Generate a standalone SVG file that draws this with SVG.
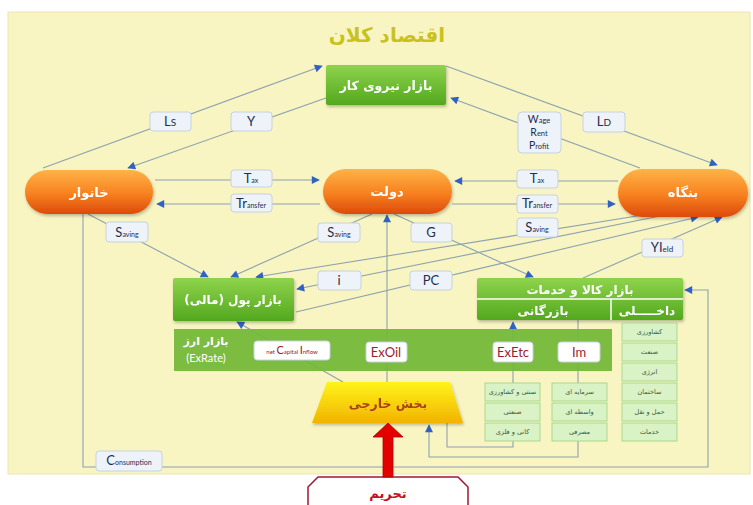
<svg xmlns="http://www.w3.org/2000/svg" width="753" height="505" viewBox="0 0 753 505">
<style>
.fa{font-family:"DejaVu Sans",sans-serif;font-weight:bold;text-anchor:middle}
.w{fill:#fff}
.ln{fill:none;stroke:#8da2ae;stroke-width:1.1}
.lb{fill:#eef3fa;stroke:#c5d2de;stroke-width:1}
.lt{font-family:Lato,"Open Sans",sans-serif;fill:#1f2d4e;text-anchor:middle;font-size:13px}
.rt{font-family:Lato,"Open Sans",sans-serif;fill:#9b1b30;text-anchor:middle;font-size:13px}
.sm{font-size:7px}
.sb{fill:#d9f2c6;stroke:#a9d98c;stroke-width:1}
.st{font-family:"DejaVu Sans",sans-serif;font-size:6.5px;fill:#3d5a3a;text-anchor:middle}
</style>
<defs>
<marker id="ah" viewBox="0 0 10 10" refX="9" refY="5" markerWidth="9" markerHeight="8" markerUnits="userSpaceOnUse" orient="auto">
<path d="M0,0 L10,5 L0,10 z" fill="#2f62c4"/>
</marker>
<linearGradient id="gr" x1="0" y1="0" x2="0" y2="1">
<stop offset="0" stop-color="#8fd34c"/><stop offset="1" stop-color="#52a81e"/>
</linearGradient>
<linearGradient id="or" x1="0" y1="0" x2="0" y2="1">
<stop offset="0" stop-color="#ffb347"/><stop offset="0.55" stop-color="#f7801f"/><stop offset="1" stop-color="#dc4a0c"/>
</linearGradient>
<linearGradient id="ye" x1="0" y1="0" x2="0" y2="1">
<stop offset="0" stop-color="#fff41a"/><stop offset="1" stop-color="#f2b300"/>
</linearGradient>
<filter id="sh" x="-10%" y="-10%" width="130%" height="140%">
<feDropShadow dx="1" dy="2" stdDeviation="1.5" flood-color="#000" flood-opacity="0.25"/>
</filter>
</defs>
<rect x="0" y="0" width="753" height="505" fill="#ffffff"/>
<rect x="8" y="12" width="742" height="462" fill="#f8f5c2" stroke="#ebe6b0" stroke-width="1"/>
<text x="387" y="42" class="fa" font-size="20" fill="#c9c21c">اقتصاد کلان</text>

<g id="connectors">
<path class="ln" d="M43,168 L322,66" marker-end="url(#ah)"/>
<path class="ln" d="M326,98 L128,168" marker-end="url(#ah)"/>
<path class="ln" d="M446,66 L717,165" marker-end="url(#ah)"/>
<path class="ln" d="M640,168 L451,98" marker-end="url(#ah)"/>
<path class="ln" d="M155,180 L319,180" marker-end="url(#ah)"/>
<path class="ln" d="M320,204 L157,204" marker-end="url(#ah)"/>
<path class="ln" d="M618,181 L455,181" marker-end="url(#ah)"/>
<path class="ln" d="M452,204 L615,204" marker-end="url(#ah)"/>
<path class="ln" d="M88,214 L208,277" marker-end="url(#ah)"/>
<path class="ln" d="M372,214 L231,277" marker-end="url(#ah)"/>
<path class="ln" d="M387,382 L387,215" marker-end="url(#ah)"/>
<path class="ln" d="M394,214 L533,277" marker-end="url(#ah)"/>
<path class="ln" d="M637,216 L256,277" marker-end="url(#ah)"/>
<path class="ln" d="M660,216 L297,289" marker-end="url(#ah)"/>
<path class="ln" d="M296,312 L698,217" marker-end="url(#ah)"/>
<path class="ln" d="M583,278 L722,217" marker-end="url(#ah)"/>
<path class="ln" d="M343,382 L237,322" marker-end="url(#ah)"/>
<path class="ln" d="M447,423 V447 H513 V441"/>
<path class="ln" d="M513,383 V322" marker-end="url(#ah)"/>
<path class="ln" d="M578,320 V383"/>
<path class="ln" d="M578,441 V457 H429 V425" marker-end="url(#ah)"/>
<path class="ln" d="M83,214 V467 H708 V290 H685" marker-end="url(#ah)"/>
</g>

<g id="labour-market" filter="url(#sh)">
<rect x="326" y="65" width="120" height="40" rx="2" fill="url(#gr)"/>
<text x="386" y="90" class="fa w" font-size="12.5">بازار نیروی کار</text>
</g>
<g id="household" filter="url(#sh)">
<rect x="25" y="170" width="128" height="44" rx="22" fill="url(#or)"/>
<text x="89" y="197" class="fa w" font-size="13">خانوار</text>
</g>
<g id="government" filter="url(#sh)">
<rect x="323" y="169" width="129" height="45" rx="22.5" fill="url(#or)"/>
<text x="387" y="196" class="fa w" font-size="13">دولت</text>
</g>
<g id="firm" filter="url(#sh)">
<rect x="618" y="169" width="130" height="48" rx="24" fill="url(#or)"/>
<text x="683" y="197" class="fa w" font-size="13">بنگاه</text>
</g>
<g id="money-market" filter="url(#sh)">
<rect x="173" y="278" width="121" height="43" rx="2" fill="url(#gr)"/>
<text x="233" y="304" class="fa w" font-size="12">بازار پول (مالی)</text>
</g>
<g id="goods-market" filter="url(#sh)">
<rect x="477" y="278" width="206" height="42" rx="2" fill="url(#gr)"/>
<line x1="477" y1="299" x2="683" y2="299" stroke="#fff" stroke-width="1.5"/>
<line x1="611" y1="299" x2="611" y2="320" stroke="#fff" stroke-width="1.5"/>
<text x="580" y="294" class="fa w" font-size="12">بازار کالا و خدمات</text>
<text x="543" y="315" class="fa w" font-size="12">بازرگانی</text>
<text x="647" y="315" class="fa w" font-size="12">داخـــــلی</text>
</g>
<g id="currency-market">
<rect x="174" y="329" width="438" height="42" fill="#74b83a" opacity="0.95"/>
<text x="206" y="345" class="fa w" font-size="11">بازار ارز</text>
<text x="206" y="362" font-family="Lato,sans-serif" font-size="11" fill="#fff" text-anchor="middle">(ExRate)</text>
</g>
<g id="foreign-sector" filter="url(#sh)">
<polygon points="327,382 450,382 463,423 312,423" fill="url(#ye)"/>
<text x="388" y="408" class="fa" font-size="12.5" fill="#a8401a">بخش خارجی</text>
</g>
<g id="sanctions">
<polygon points="318,477 458,477 468,487 468,515 308,515 308,487" fill="#fff" stroke="#a01830" stroke-width="1.5"/>
<text x="388" y="498" class="fa" font-size="13" fill="#c41020">تحریم</text>
</g>
<g id="sanction-arrow">
<polygon points="388,423 373,437 383,437 383,477 393,477 393,437 403,437" fill="#e30000" stroke="#b00000" stroke-width="0.8"/>
</g>

<g id="labels">
<rect class="lb" x="150" y="112" width="41" height="19" rx="3"/>
<text class="lt" x="170" y="126">L<tspan style="font-size:10px">S</tspan></text>
<rect class="lb" x="231" y="112" width="41" height="19" rx="3"/>
<text class="lt" x="251" y="126">Y</text>
<rect class="lb" x="231" y="170" width="41" height="17" rx="3"/>
<text class="lt" x="251" y="183">T<tspan class="sm">ax</tspan></text>
<rect class="lb" x="231" y="194" width="41" height="18" rx="3"/>
<text class="lt" x="251" y="208">Tr<tspan class="sm">ansfer</tspan></text>
<rect class="lb" x="106" y="222" width="42" height="20" rx="3"/>
<text class="lt" x="127" y="237">S<tspan class="sm">aving</tspan></text>
<rect class="lb" x="318" y="223" width="42" height="19" rx="3"/>
<text class="lt" x="339" y="237">S<tspan class="sm">aving</tspan></text>
<rect class="lb" x="411" y="223" width="41" height="19" rx="3"/>
<text class="lt" x="431" y="237">G</text>
<rect class="lb" x="518" y="112" width="43" height="41" rx="4"/>
<text class="lt" x="539" y="123" style="font-size:10.5px">W<tspan style="font-size:7.5px">age</tspan></text>
<text class="lt" x="539" y="136" style="font-size:10.5px">R<tspan style="font-size:7.5px">ent</tspan></text>
<text class="lt" x="539" y="149" style="font-size:10.5px">P<tspan style="font-size:7.5px">rofit</tspan></text>
<rect class="lb" x="583" y="112" width="42" height="20" rx="3"/>
<text class="lt" x="604" y="126">L<tspan style="font-size:10px">D</tspan></text>
<rect class="lb" x="517" y="170" width="41" height="18" rx="3"/>
<text class="lt" x="537" y="183">T<tspan class="sm">ax</tspan></text>
<rect class="lb" x="517" y="195" width="41" height="18" rx="3"/>
<text class="lt" x="537" y="208">Tr<tspan class="sm">ansfer</tspan></text>
<rect class="lb" x="517" y="218" width="41" height="19" rx="3"/>
<text class="lt" x="537" y="232">S<tspan class="sm">aving</tspan></text>
<rect class="lb" x="642" y="239" width="41" height="18" rx="3"/>
<text class="lt" x="662" y="252">YI<tspan style="font-size:8px">eld</tspan></text>
<rect class="lb" x="318" y="271" width="43" height="19" rx="3"/>
<text class="lt" x="339" y="285">i</text>
<rect class="lb" x="410" y="271" width="42" height="19" rx="3"/>
<text class="lt" x="431" y="285">PC</text>
<rect class="lb" x="254" y="341" width="76" height="19" rx="3" style="fill:#fff"/>
<text class="rt" x="292" y="354" style="font-size:11px"><tspan style="font-size:6px">net </tspan>C<tspan style="font-size:6px">apital </tspan>I<tspan style="font-size:6px">nflow</tspan></text>
<rect class="lb" x="366" y="342" width="41" height="20" rx="3" style="fill:#fff"/>
<text class="rt" x="386" y="357">ExOil</text>
<rect class="lb" x="493" y="342" width="40" height="20" rx="3" style="fill:#fff"/>
<text class="rt" x="513" y="357">ExEtc</text>
<rect class="lb" x="558" y="342" width="42" height="20" rx="3" style="fill:#fff"/>
<text class="rt" x="579" y="357">Im</text>
<rect class="lb" x="96" y="451" width="66" height="20" rx="3"/>
<text class="lt" x="129" y="465">C<tspan class="sm">onsumption</tspan></text>
</g>

<g id="domestic-sectors">
<rect class="sb" x="622" y="323" width="55" height="18"/><text class="st" x="649.5" y="334">کشاورزی</text>
<rect class="sb" x="622" y="343" width="55" height="18"/><text class="st" x="649.5" y="354">صنعت</text>
<rect class="sb" x="622" y="363" width="55" height="18"/><text class="st" x="649.5" y="374">انرژی</text>
<rect class="sb" x="622" y="383" width="55" height="18"/><text class="st" x="649.5" y="394">ساختمان</text>
<rect class="sb" x="622" y="403" width="55" height="18"/><text class="st" x="649.5" y="414">حمل و نقل</text>
<rect class="sb" x="622" y="423" width="55" height="18"/><text class="st" x="649.5" y="434">خدمات</text>
</g>
<g id="export-sectors">
<rect class="sb" x="485" y="383" width="55" height="18"/><text class="st" x="512.5" y="394">سنتی و کشاورزی</text>
<rect class="sb" x="485" y="403" width="55" height="18"/><text class="st" x="512.5" y="414">صنعتی</text>
<rect class="sb" x="485" y="423" width="55" height="18"/><text class="st" x="512.5" y="434">کانی و فلزی</text>
</g>
<g id="import-sectors">
<rect class="sb" x="552" y="383" width="55" height="18"/><text class="st" x="579.5" y="394">سرمایه ای</text>
<rect class="sb" x="552" y="403" width="55" height="18"/><text class="st" x="579.5" y="414">واسطه ای</text>
<rect class="sb" x="552" y="423" width="55" height="18"/><text class="st" x="579.5" y="434">مصرفی</text>
</g>
</svg>
